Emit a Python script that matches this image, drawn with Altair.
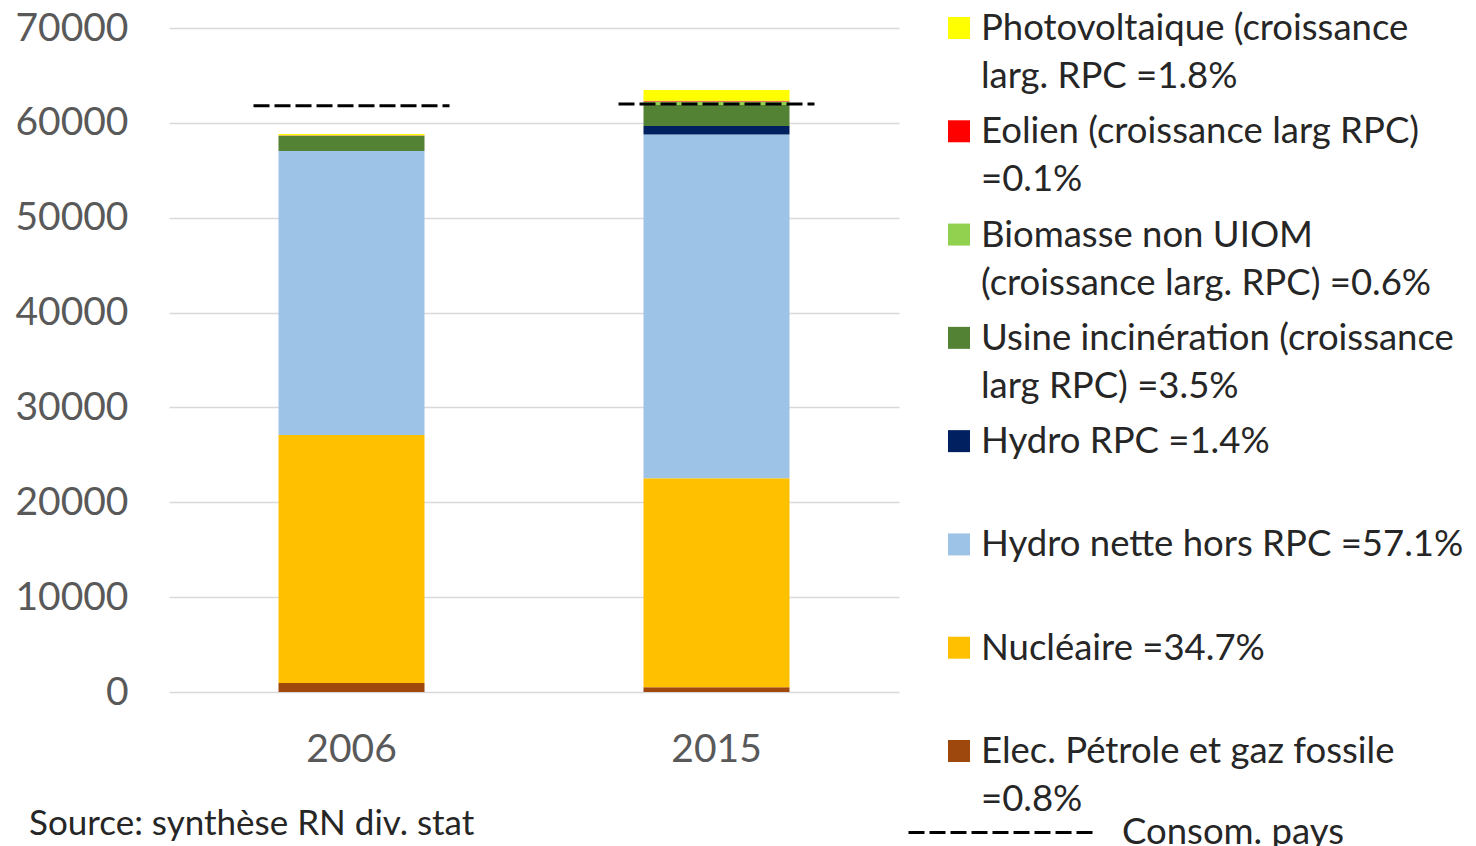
import altair as alt
import pandas as pd

# ---------------- data ----------------
years = ["2006", "2015"]
series = [
    "Elec. Pétrole et gaz fossile\n=0.8%",
    "Nucléaire =34.7%",
    "Hydro nette hors RPC =57.1%",
    "Hydro RPC =1.4%",
    "Usine incinération (croissance\nlarg RPC) =3.5%",
    "Biomasse non UIOM\n(croissance larg. RPC) =0.6%",
    "Eolien (croissance larg RPC)\n=0.1%",
    "Photovoltaique (croissance\nlarg. RPC =1.8%",
]
colors = ["#9E480E", "#FFC000", "#9DC3E6", "#002060", "#548235", "#92D050", "#FF0000", "#FFFF00"]
values_2006 = [950, 26150, 29940, 0, 1580, 60, 15, 140]
values_2015 = [508, 22020, 36240, 890, 2220, 380, 63, 1140]
consom = [61800, 62000]
consom_label = "Consom. pays"
source_note = "Source: synthèse RN div. stat"
y_ticks = [0, 10000, 20000, 30000, 40000, 50000, 60000, 70000]

# ---------------- tables ----------------
rows = []
for i, s in enumerate(series):
    rows.append({"annee": years[0], "serie": s, "ordre": i, "valeur": values_2006[i]})
    rows.append({"annee": years[1], "serie": s, "ordre": i, "valeur": values_2015[i]})
df = pd.DataFrame(rows)
df_c = pd.DataFrame({"annee": years, "consom": consom, "nom": [consom_label] * len(years)})
legend_order = list(reversed(series))
df_leg = pd.DataFrame({"serie": legend_order})

FONT = "Lato"
LEG_FS = 36.5
color_scale = alt.Scale(domain=series, range=colors)

x_enc = alt.X(
    "annee:N",
    scale=alt.Scale(paddingInner=0.6, paddingOuter=0.3),
    axis=alt.Axis(
        title=None, domain=False, ticks=False, tickSize=0, labelAngle=0,
        labelFont=FONT, labelFontSize=39, labelColor="#595959", labelPadding=38,
    ),
)

bars = alt.Chart(df).mark_bar().encode(
    x=x_enc,
    y=alt.Y(
        "valeur:Q",
        stack="zero",
        scale=alt.Scale(domain=[0, 70000], nice=False),
        axis=alt.Axis(
            title=None, values=y_ticks, format="d", domain=False, ticks=False, tickSize=0,
            labelFont=FONT, labelFontSize=39, labelColor="#595959", labelPadding=41,
            grid=True, gridColor="#D9D9D9", gridWidth=1.5,
        ),
    ),
    color=alt.Color("serie:N", scale=color_scale, legend=None),
    order=alt.Order("ordre:Q", sort="ascending"),
)

consom_rule = alt.Chart(df_c).mark_rule(
    strokeWidth=3, color="black", xOffset=-25, x2Offset=25
).encode(
    x=alt.X("annee:N", bandPosition=0),
    x2=alt.X2("annee:N", bandPosition=1),
    y=alt.Y("consom:Q"),
    strokeDash=alt.StrokeDash(
        "nom:N",
        scale=alt.Scale(domain=[consom_label], range=[[16, 5]]),
        legend=alt.Legend(
            title=None, orient="none", legendX=738, legendY=709, padding=0,
            symbolType="stroke", symbolSize=35344, symbolStrokeWidth=3,
            symbolStrokeColor="black", labelFont=FONT, labelFontSize=LEG_FS,
            labelColor="#262626", labelOffset=24, labelLimit=500,
        ),
    ),
)

main = alt.layer(bars, consom_rule).properties(
    width=730,
    height=664,
    title=alt.TitleParams(
        source_note, orient="bottom", anchor="start", frame="group",
        font=FONT, fontSize=35, fontWeight="normal", color="#262626",
        dx=-140, offset=38,
    ),
)

leg_base = alt.Chart(df_leg).encode(
    y=alt.Y("serie:N", sort=legend_order, scale=alt.Scale(type="point", padding=0), axis=None)
)
leg_squares = leg_base.mark_square(size=484, opacity=1, filled=True).encode(
    x=alt.value(18),
    color=alt.Color("serie:N", scale=color_scale, legend=None),
)
leg_texts = leg_base.mark_text(
    align="left", baseline="alphabetic", dy=12, lineBreak="\n", lineHeight=48,
    font=FONT, fontSize=LEG_FS, color="#262626",
).encode(x=alt.value(40), text="serie:N")
legend_panel = alt.layer(leg_squares, leg_texts).properties(width=300, height=723)

chart = alt.hconcat(main, legend_panel, spacing=42, bounds="flush").properties(
    padding={"left": 6, "top": 1, "right": 0, "bottom": 0},
    background="white",
).configure_view(stroke=None)

chart.save("out.html", embed_options={"renderer": "svg", "actions": False})
